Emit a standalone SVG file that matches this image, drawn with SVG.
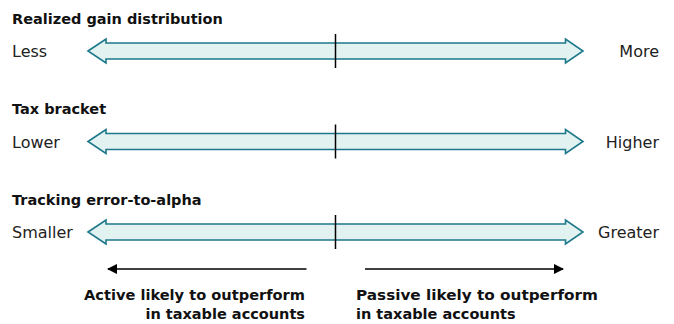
<svg xmlns="http://www.w3.org/2000/svg" width="674" height="324" viewBox="0 0 674 324">
<style>
.title{font-family:"DejaVu Sans",sans-serif;font-weight:bold;font-size:14.5px;fill:#111}
.lbl{font-family:"DejaVu Sans",sans-serif;font-size:16px;fill:#222}
.bar{fill:#E2F2F1;stroke:#1C788A;stroke-width:1.6;stroke-linejoin:miter}
.mid{stroke:#000;stroke-width:1.5}
.ln{stroke:#000;stroke-width:1.5;fill:none}
</style>
<defs>
<polygon id="dbl" class="bar" points="88,0 106,-12 106,-8 565.5,-8 565.5,-12 583,0 565.5,12 565.5,8 106,8 106,12"/>
<marker id="ah" viewBox="0 0 10 10" refX="9" refY="5" markerWidth="7" markerHeight="7" orient="auto-start-reverse" markerUnits="strokeWidth">
<path d="M0,0 L10,5 L0,10 z" fill="#000"/>
</marker>
</defs>
<g id="row1">
<text class="title" x="12" y="23.5">Realized gain distribution</text>
<use href="#dbl" transform="translate(0,51)"/>
<line class="mid" x1="335.5" y1="34" x2="335.5" y2="68"/>
<text class="lbl" x="12" y="57">Less</text>
<text class="lbl" x="659" y="57" text-anchor="end">More</text>
</g>
<g id="row2">
<text class="title" x="12" y="114">Tax bracket</text>
<use href="#dbl" transform="translate(0,141.5)"/>
<line class="mid" x1="335.5" y1="124.5" x2="335.5" y2="158.5"/>
<text class="lbl" x="12" y="147.5">Lower</text>
<text class="lbl" x="659" y="147.5" text-anchor="end">Higher</text>
</g>
<g id="row3">
<text class="title" x="12" y="205">Tracking error-to-alpha</text>
<use href="#dbl" transform="translate(0,232)"/>
<line class="mid" x1="335.5" y1="215" x2="335.5" y2="249"/>
<text class="lbl" x="12" y="238">Smaller</text>
<text class="lbl" x="659" y="238" text-anchor="end">Greater</text>
</g>
<g id="connectors">
<line class="ln" x1="306.5" y1="269" x2="108" y2="269" marker-end="url(#ah)"/>
<line class="ln" x1="365" y1="269" x2="563" y2="269" marker-end="url(#ah)"/>
</g>
<g id="active">
<text class="title" x="84" y="300" textLength="221" lengthAdjust="spacingAndGlyphs">Active likely to outperform</text>
<text class="title" x="305" y="319" text-anchor="end">in taxable accounts</text>
</g>
<g id="passive">
<text class="title" x="356" y="300" textLength="242" lengthAdjust="spacingAndGlyphs">Passive likely to outperform</text>
<text class="title" x="356" y="319">in taxable accounts</text>
</g>
</svg>
